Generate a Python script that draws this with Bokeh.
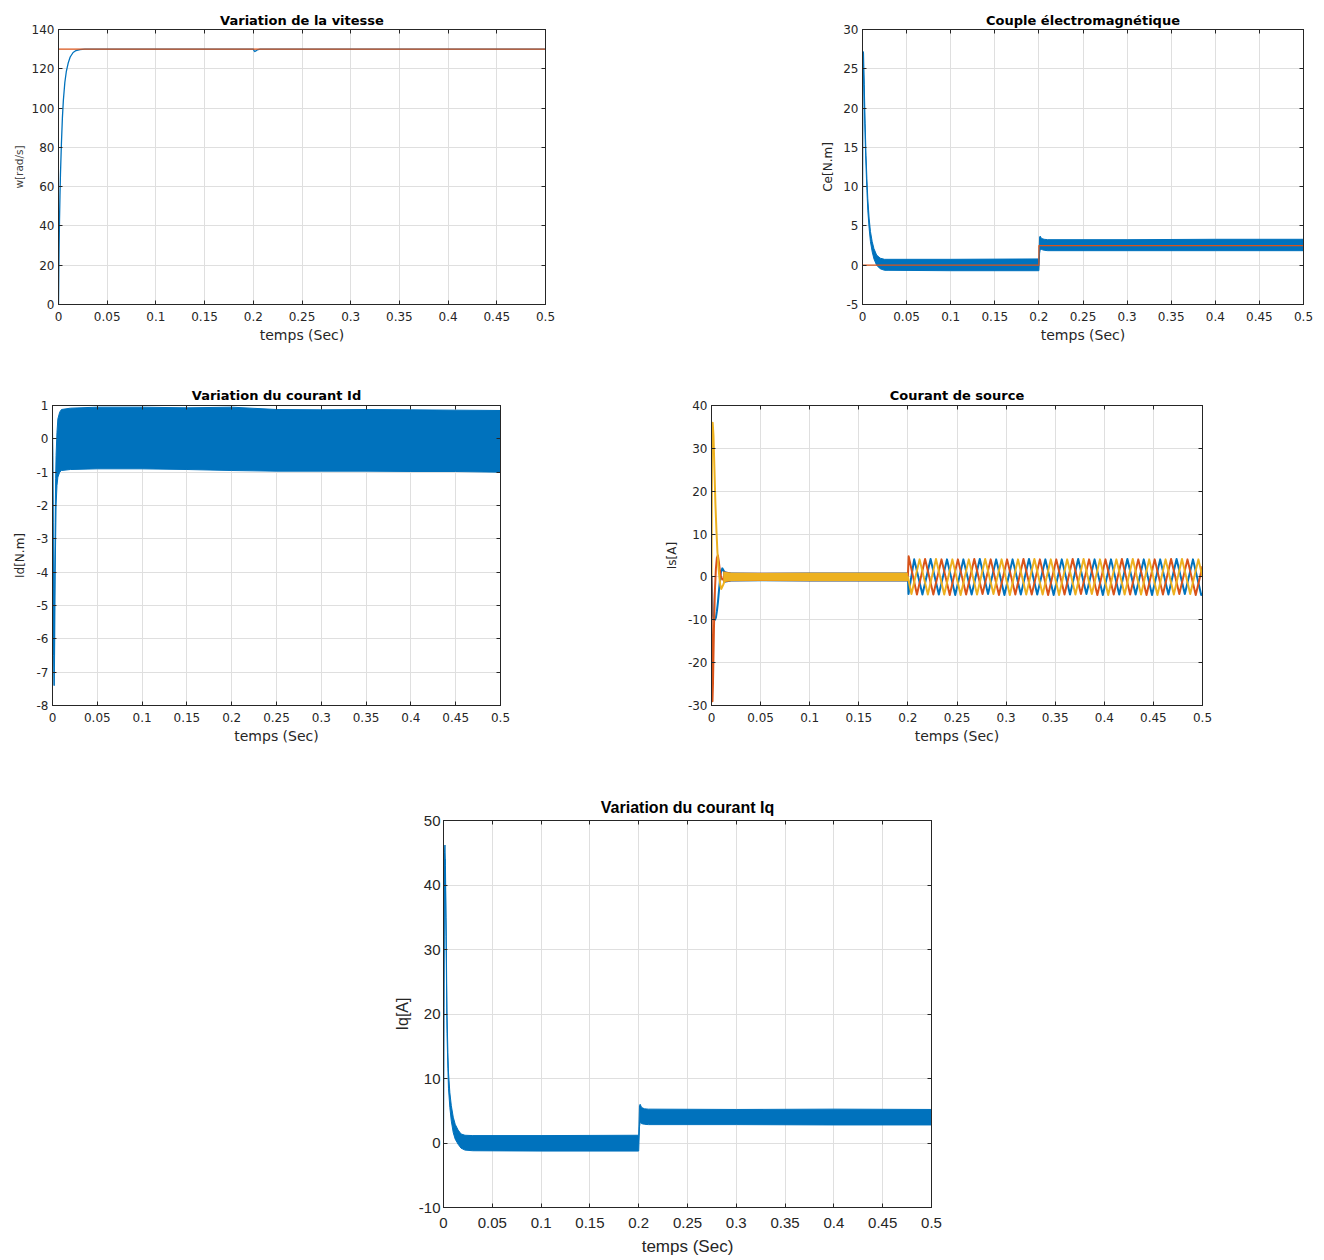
from bokeh.plotting import figure
from bokeh.models import FixedTicker, LinearAxis, CustomJSTickFormatter, Spacer, Range1d
from bokeh.layouts import row, column
from bokeh.embed import file_html
from bokeh.resources import INLINE

BLUE = "#0072BD"
RED = "#D95319"
YEL = "#EDB120"
AX = "#262626"
GRID = "#dfdfdf"

# ---------------- data ----------------
x_ticks = [0, 0.05, 0.1, 0.15, 0.2, 0.25, 0.3, 0.35, 0.4, 0.45, 0.5]

# Speed
w_ticks = [0, 20, 40, 60, 80, 100, 120, 140]
w_t = [0, 0.0003, 0.0006, 0.001, 0.0015, 0.002, 0.003, 0.004, 0.005, 0.0065, 0.008, 0.01,
       0.012, 0.015, 0.018, 0.022, 0.027, 0.2, 0.2008, 0.2016, 0.2026, 0.204, 0.207, 0.5]
w_val = [0, 15, 28, 42, 55, 66, 82, 95, 104, 113, 118.5, 123,
         126, 128.3, 129.3, 129.8, 130, 130, 129.2, 128.8, 129.1, 129.6, 130, 130]
wref_t = [0, 0.5]
wref = [130, 130]

# Electromagnetic torque (band envelope)
ce_ticks = [-5, 0, 5, 10, 15, 20, 25, 30]
ce_t = [0, 0.0003, 0.0008, 0.0012, 0.002, 0.003, 0.004, 0.005, 0.006, 0.0075, 0.009, 0.011,
        0.013, 0.016, 0.02, 0.025, 0.03, 0.1, 0.1995, 0.2, 0.2008, 0.2015, 0.203, 0.206, 0.21,
        0.3, 0.4, 0.5]
ce_up = [0, 22, 27.2, 27, 23, 18, 14, 11, 8.5, 6, 4.3, 3,
         2.1, 1.3, 0.9, 0.75, 0.75, 0.75, 0.8, 0.8, 3.6, 3.7, 3.4, 3.3, 3.25,
         3.25, 3.3, 3.3]
ce_lo = [0, 20, 25, 25, 21, 16, 12.5, 9.5, 7, 4.7, 3, 1.7,
         0.8, 0, -0.45, -0.65, -0.65, -0.7, -0.7, -0.7, 1.5, 2.0, 2.0, 1.9, 1.85,
         1.85, 1.85, 1.85]
ceref_t = [0, 0.2, 0.2, 0.5]
ceref = [0, 0, 2.5, 2.5]

# Id current (band envelope)
id_ticks = [-8, -7, -6, -5, -4, -3, -2, -1, 0, 1]
id_t = [0, 0.0004, 0.0008, 0.0012, 0.0016, 0.002, 0.0025, 0.003, 0.0035, 0.004, 0.005, 0.006,
        0.008, 0.01, 0.02, 0.05, 0.1, 0.15, 0.2, 0.25, 0.3, 0.35, 0.4, 0.45, 0.5]
id_up = [0.4, -0.5, -2.5, -4.5, -6.5, -6.5, -4, -2.5, -1.2, -0.5, 0.2, 0.6,
         0.8, 0.88, 0.92, 0.95, 0.95, 0.93, 0.95, 0.88, 0.87, 0.88, 0.87, 0.86, 0.85]
id_lo = [0, -1.5, -4, -6.5, -7.4, -7.4, -6, -4, -3, -2, -1.4, -1.15,
         -1.0, -0.95, -0.92, -0.9, -0.9, -0.92, -0.95, -0.97, -0.97, -0.97, -0.98, -0.98, -1.0]

# Source currents (three phases)
is_ticks = [-30, -20, -10, 0, 10, 20, 30, 40]
isa_t = [0, 0.0008, 0.0015, 0.0025, 0.0035, 0.0045, 0.0055, 0.0065, 0.0075, 0.0085, 0.0095,
         0.011, 0.013, 0.015, 0.018, 0.02]
isa = [0, -5, -9, -10, -10, -9.5, -8, -6, -3.5, -1, 1, 2, 1.2, 0.5, 0.2, 0]
isb_t = [0, 0.0005, 0.001, 0.0015, 0.0025, 0.0035, 0.0045, 0.0055, 0.0065, 0.0075, 0.0085,
         0.0095, 0.011, 0.013, 0.016, 0.02]
isb = [0, -20, -29, -25, -12, -3, 2, 4.5, 5, 3.5, 1.5, 0.2, -0.6, -0.3, 0, 0]
isc_t = [0, 0.0005, 0.0012, 0.002, 0.003, 0.004, 0.005, 0.006, 0.007, 0.008, 0.009, 0.01,
         0.012, 0.014, 0.017, 0.02]
isc = [0, 30, 36, 33, 25, 17, 11, 6, 2.5, 0, -2, -2.8, -1.8, -0.6, 0, 0]

is_band_t = [0.012, 0.02, 0.05, 0.1, 0.15, 0.2]
isa_band_up = [1.4, 1.05, 1.0, 1.05, 1.05, 1.05]
isa_band_lo = [-1.4, -1.05, -1.0, -1.05, -1.05, -1.05]
isb_band_up = [1.3, 1.0, 0.95, 1.0, 1.0, 1.0]
isb_band_lo = [-1.3, -1.0, -0.95, -1.0, -1.0, -1.0]
isc_band_up = [1.2, 0.95, 0.9, 0.95, 0.95, 0.95]
isc_band_lo = [-1.2, -0.95, -0.9, -0.95, -0.95, -0.95]

isa_sin_t = [0.2, 0.2006, 0.2064, 0.2148, 0.2231, 0.2315, 0.2398, 0.2482, 0.2565, 0.2649,
             0.2732, 0.2816, 0.2899, 0.2983, 0.3066, 0.3150, 0.3233, 0.3317, 0.3400, 0.3484,
             0.3567, 0.3651, 0.3734, 0.3818, 0.3901, 0.3985, 0.4068, 0.4152, 0.4235, 0.4319,
             0.4402, 0.4486, 0.4569, 0.4653, 0.4736, 0.4820, 0.4903, 0.4987, 0.5]
isa_sin = [0.0, -4.0, 4.1, -4.1, 4.2, -4.1, 4.1, -4.2, 4.1, -4.1, 4.2, -4.0, 4.1, -4.2, 4.1,
           -4.1, 4.2, -4.1, 4.1, -4.2, 4.1, -4.1, 4.2, -4.0, 4.1, -4.2, 4.1, -4.1, 4.2, -4.1,
           4.1, -4.2, 4.1, -4.1, 4.2, -4.0, 4.1, -4.2, -4.0]
isb_sin_t = [0.2, 0.2008, 0.2092, 0.2175, 0.2259, 0.2342, 0.2426, 0.2509, 0.2593, 0.2676,
             0.2760, 0.2843, 0.2927, 0.3010, 0.3094, 0.3177, 0.3261, 0.3344, 0.3428, 0.3511,
             0.3595, 0.3678, 0.3762, 0.3845, 0.3929, 0.4012, 0.4096, 0.4179, 0.4263, 0.4346,
             0.4430, 0.4513, 0.4597, 0.4680, 0.4764, 0.4847, 0.4931, 0.5]
isb_sin = [0.3, 4.8, -4.1, 4.2, -4.1, 4.1, -4.2, 4.1, -4.1, 4.2, -4.0, 4.1, -4.2, 4.1, -4.1,
           4.2, -4.1, 4.1, -4.2, 4.1, -4.1, 4.2, -4.0, 4.1, -4.2, 4.1, -4.1, 4.2, -4.1, 4.1,
           -4.2, 4.1, -4.1, 4.2, -4.0, 4.1, -4.2, 2.5]
isc_sin_t = [0.2, 0.2036, 0.2119, 0.2203, 0.2286, 0.2370, 0.2453, 0.2537, 0.2620, 0.2704,
             0.2787, 0.2871, 0.2954, 0.3038, 0.3121, 0.3205, 0.3288, 0.3372, 0.3455, 0.3539,
             0.3622, 0.3706, 0.3789, 0.3873, 0.3956, 0.4040, 0.4123, 0.4207, 0.4290, 0.4374,
             0.4457, 0.4541, 0.4624, 0.4708, 0.4791, 0.4875, 0.4958, 0.5]
isc_sin = [0.0, -4.0, 4.1, -4.1, 4.2, -4.1, 4.1, -4.2, 4.1, -4.1, 4.2, -4.0, 4.1, -4.2, 4.1,
           -4.1, 4.2, -4.1, 4.1, -4.2, 4.1, -4.1, 4.2, -4.0, 4.1, -4.2, 4.1, -4.1, 4.2, -4.1,
           4.1, -4.2, 4.1, -4.1, 4.2, -4.0, 4.1, 0.0]

# Iq current (band envelope)
iq_ticks = [-10, 0, 10, 20, 30, 40, 50]
iq_t = [0, 0.0004, 0.001, 0.0015, 0.002, 0.0026, 0.0036, 0.0045, 0.0051, 0.0065, 0.008, 0.01,
        0.012, 0.015, 0.018, 0.022, 0.03, 0.1, 0.1995, 0.2, 0.2008, 0.2015, 0.203, 0.206, 0.21,
        0.3, 0.4, 0.5]
iq_up = [0, 21, 45, 46.2, 43, 35, 20, 14, 11, 7.8, 5.8, 4,
         2.9, 2, 1.4, 1.2, 1.15, 1.15, 1.2, 1.2, 5.8, 6.0, 5.5, 5.3, 5.25,
         5.2, 5.25, 5.2]
iq_lo = [0, 19, 42, 44, 40, 32, 17, 11.5, 8.5, 5.5, 3.4, 1.6,
         0.6, -0.2, -0.8, -1.1, -1.2, -1.25, -1.25, -1.25, 2.5, 3.2, 3.0, 2.9, 2.85,
         2.85, 2.8, 2.8]


# ---------------- helpers ----------------
def build(w, h, bl, br, bt, bb, y_lo, y_hi, y_ticks, title, ylabel, font,
          tick_fs, title_fs, xlab_fs, ylab_fs, ylab_sto, title_sto=3, xmaj_sto=7,
          ymaj_sto=4, xlab_sto=3, ylab_color=AX):
    p = figure(width=w, height=h, x_range=Range1d(0, 0.5), y_range=Range1d(y_lo, y_hi),
               output_backend="svg", toolbar_location=None, tools="",
               min_border_left=bl, min_border_right=br, min_border_top=bt, min_border_bottom=bb)
    p.title.text = title
    p.title.align = "center"
    p.title.text_font = font
    p.title.text_font_size = title_fs
    p.title.text_font_style = "bold"
    p.title.text_color = "black"
    p.title.standoff = title_sto
    p.outline_line_color = AX
    p.outline_line_width = 1
    p.background_fill_color = "white"
    p.border_fill_color = "white"

    xa = p.xaxis[0]
    ya = p.yaxis[0]
    xa.ticker = FixedTicker(ticks=x_ticks)
    ya.ticker = FixedTicker(ticks=y_ticks)
    xa.formatter = CustomJSTickFormatter(code="return String(tick);")
    ya.formatter = CustomJSTickFormatter(code="return String(tick);")
    xa.axis_label = "temps (Sec)"
    ya.axis_label = ylabel
    for ax in (xa, ya):
        ax.major_tick_in = 4
        ax.major_tick_out = 0
        ax.minor_tick_line_color = None
        ax.axis_line_color = AX
        ax.major_tick_line_color = AX
        ax.major_label_text_font = font
        ax.major_label_text_font_size = tick_fs
        ax.major_label_text_color = AX
        ax.axis_label_text_font = font
        ax.axis_label_text_font_style = "normal"
        ax.axis_label_text_color = AX
    xa.major_label_standoff = xmaj_sto
    ya.major_label_standoff = ymaj_sto
    xa.axis_label_text_font_size = xlab_fs
    xa.axis_label_standoff = xlab_sto
    ya.axis_label_text_font_size = ylab_fs
    ya.axis_label_standoff = ylab_sto
    ya.axis_label_text_color = ylab_color

    for loc, ticks in (("right", y_ticks), ("above", x_ticks)):
        ax = LinearAxis(ticker=FixedTicker(ticks=ticks),
                        formatter=CustomJSTickFormatter(code="return '';"),
                        major_tick_in=4, major_tick_out=0, major_label_standoff=0,
                        minor_tick_line_color=None, axis_line_color=AX,
                        major_tick_line_color=AX)
        p.add_layout(ax, loc)

    p.xgrid.grid_line_color = GRID
    p.ygrid.grid_line_color = GRID
    p.xgrid.grid_line_width = 1
    p.ygrid.grid_line_width = 1
    return p


def band(p, t, lo, up, color):
    p.varea(x=t, y1=lo, y2=up, fill_color=color, fill_alpha=1)
    p.line(t, up, line_color=color, line_width=1)
    p.line(t, lo, line_color=color, line_width=1)


DJ = "DejaVu Sans"
LS = "Liberation Sans"

# 1. speed
f1 = build(552, 337, 50, 15, 20, 40, 0, 140, w_ticks, "Variation de la vitesse", "w[rad/s]",
           DJ, "12px", "13px", "14px", "10.5px", 4, title_sto=4, ylab_color="#404040")
f1.line(w_t, w_val, line_color=BLUE, line_width=1.3, line_join="round")
f1.line(wref_t, wref, line_color=RED, line_width=1.2)

# 2. torque
f2 = build(505, 337, 50, 14, 20, 40, -5, 30, ce_ticks, "Couple électromagnétique", "Ce[N.m]",
           DJ, "12px", "13px", "14px", "12px", 5, title_sto=4)
band(f2, ce_t, ce_lo, ce_up, BLUE)
f2.line(ceref_t, ceref, line_color=RED, line_width=1.2)

# 3. Id
f3 = build(507, 401, 44, 15, 60, 40, -8, 1, id_ticks, "Variation du courant Id", "Id[N.m]",
           DJ, "12px", "13px", "14px", "12px", 7, title_sto=5)
band(f3, id_t, id_lo, id_up, BLUE)

# 4. source currents
f4 = build(562, 401, 56, 15, 60, 40, -30, 40, is_ticks, "Courant de source", "Is[A]",
           DJ, "12px", "13px", "14px", "12px", 6, title_sto=6)
phases = [
    (isa_t + isa_sin_t, isa + isa_sin, isa_band_lo, isa_band_up, BLUE),
    (isb_t + isb_sin_t, isb + isb_sin, isb_band_lo, isb_band_up, RED),
    (isc_t + isc_sin_t, isc + isc_sin, isc_band_lo, isc_band_up, YEL),
]
for t, v, lo, up, col in phases:
    f4.varea(x=is_band_t, y1=lo, y2=up, fill_color=col)
    f4.line(t, v, line_color=col, line_width=2, line_join="round")

# 5. Iq
f5 = build(568, 512, 60, 20, 74, 48, -10, 50, iq_ticks, "Variation du courant Iq", "Iq[A]",
           LS, "15px", "16px", "17px", "16px", 5, title_sto=10, xmaj_sto=10, ymaj_sto=3,
           xlab_sto=6)
band(f5, iq_t, iq_lo, iq_up, BLUE)

grid_layout = column(
    row(f1, Spacer(width=252, height=10), f2),
    row(f3, Spacer(width=140, height=10), f4),
    row(Spacer(width=375, height=10), f5),
)
layout = column(Spacer(width=10, height=8), row(Spacer(width=8, height=10), grid_layout))

open("out.html", "w").write(file_html(layout, INLINE))
